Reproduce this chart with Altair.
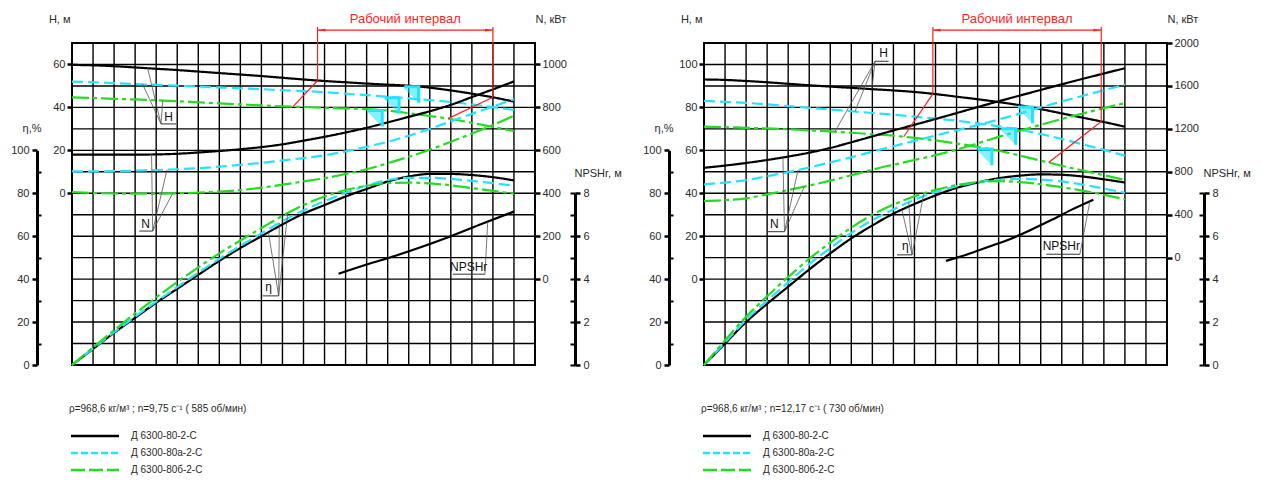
import altair as alt
import numpy as np
import pandas as pd

FONT = "Liberation Sans"
INK = "#2b2b2b"
RED = "#ff1f1f"
CYAN = "#22e4ff"

VARIANTS = ["Д 6300-80-2-С", "Д 6300-80а-2-С", "Д 6300-80б-2-С"]
COLORS = ["#000000", CYAN, "#22dd22"]
CURVE_DASH = [[1, 0], [11, 5], [17, 4, 4, 4]]
KEY_DASH = [[1, 0], [7, 3], [14, 4]]

# ---------------- n = 9,75 1/s (585 rpm) ----------------
Q_585 = list(range(0, 6301, 300))
H_585 = [
    [59.8, 59.6, 59.2, 58.6, 58.0, 57.4, 56.7, 56.0, 55.3, 54.6, 53.8, 53.0, 52.3, 51.7, 51.1, 50.6, 50.1, 49.2, 47.9, 46.4, 44.7, 42.7],
    [52.0, 51.7, 51.3, 50.9, 50.5, 50.1, 49.7, 49.3, 48.9, 48.5, 48.0, 47.6, 47.1, 46.4, 45.7, 45.0, 44.2, 43.4, 42.5, 41.4, 40.1, 38.8],
    [44.7, 44.4, 44.0, 43.7, 43.3, 42.9, 42.4, 41.9, 41.4, 40.9, 40.5, 40.2, 39.8, 39.5, 39.2, 38.5, 37.3, 36.0, 34.6, 32.8, 30.9, 29.0],
]
N_585 = [
    [580, 580, 580, 580, 581, 584, 590, 597, 605, 615, 628, 645, 663, 683, 705, 730, 756, 782, 812, 848, 884, 921],
    [502, 502, 503, 505, 508, 512, 517, 524, 532, 542, 553, 564, 577, 595, 616, 640, 668, 700, 735, 770, 804, 838],
    [405, 401, 399, 398, 398, 400, 403, 408, 415, 426, 440, 455, 470, 490, 512, 540, 570, 603, 640, 678, 718, 761],
]
ETA_585 = [
    [0, 7.5, 15, 22, 29, 35.5, 42, 48.5, 54.5, 60, 65.5, 70.5, 74.5, 78.5, 82, 85.5, 87.8, 89, 89, 88.5, 87.5, 86],
    [0, 7.7, 15.3, 22.5, 29.5, 36.3, 43, 49.5, 55.5, 61.3, 67, 72, 76.3, 80.2, 83.6, 86.2, 87.2, 87.2, 86.7, 85.8, 84.7, 83.6],
    [0, 8.2, 16.2, 24, 31.5, 38.7, 45.5, 52, 58, 63.8, 69.5, 74.5, 78.5, 81.5, 83.5, 84.7, 85, 84.6, 83.7, 82.4, 81.1, 79.8],
]
NPSH_Q_585 = [3800, 4200, 4600, 5000, 5400, 5800, 6300]
NPSH_585 = [4.25, 4.68, 5.08, 5.52, 6.0, 6.52, 7.15]
NOTE_585 = "ρ=968,6 кг/м³ ; n=9,75 с⁻¹ ( 585 об/мин)"
WORK_585 = [3500, 6000]        # working range limits on the full impeller
WORK_LOW_585 = [3150, 5360]    # the same limits on the "б" impeller
BEP_585 = [4850, 4570, 4330]   # best-efficiency flags, one per H curve

# ---------------- n = 12,17 1/s (730 rpm) ----------------
Q_730 = list(range(0, 8001, 400))
H_730 = [
    [93, 92.8, 92.3, 91.7, 91.0, 90.3, 89.7, 89.1, 88.5, 87.9, 87.2, 86.2, 85.0, 83.8, 82.5, 81.0, 79.2, 77.2, 75.2, 73.2, 71.0],
    [83, 82.6, 82.1, 81.4, 80.6, 79.8, 79.0, 78.2, 77.4, 76.6, 75.7, 74.8, 73.8, 72.6, 71.2, 69.6, 67.6, 65.3, 62.8, 60.2, 57.5],
    [71, 70.8, 70.5, 70.2, 69.8, 69.3, 68.8, 68.2, 67.5, 66.8, 65.8, 64.6, 63.2, 61.6, 59.8, 57.6, 55.2, 52.8, 50.6, 48.4, 46.2],
]
N_730 = [
    [837, 858, 882, 910, 942, 978, 1022, 1075, 1130, 1185, 1238, 1292, 1347, 1403, 1457, 1510, 1563, 1615, 1666, 1716, 1765],
    [683, 700, 722, 760, 797, 840, 888, 935, 988, 1038, 1088, 1138, 1186, 1236, 1287, 1342, 1400, 1456, 1508, 1560, 1612],
    [527, 537, 553, 590, 630, 672, 718, 768, 820, 866, 910, 955, 1005, 1065, 1125, 1182, 1238, 1292, 1343, 1393, 1440],
]
ETA_730 = [
    [0, 10, 20, 28.5, 36.5, 44.5, 52, 59, 65, 70.5, 75, 79, 82.5, 85, 87, 88.2, 88.8, 88.6, 87.8, 86.5, 85],
    [0, 10.5, 21, 30, 38.5, 47, 54.5, 61.5, 67.5, 72.5, 77, 80.5, 83.3, 85.2, 86.3, 86.7, 86.4, 85.5, 84, 82.2, 80.2],
    [0, 11.5, 22.5, 32, 41, 49.5, 57, 64, 70, 74.7, 78.6, 81.6, 83.8, 85.2, 85.6, 85.2, 84.2, 82.8, 81.2, 79.3, 77.2],
]
NPSH_Q_730 = [4600, 5000, 5400, 5800, 6200, 6600, 7000, 7400]
NPSH_730 = [4.85, 5.15, 5.5, 5.85, 6.28, 6.75, 7.25, 7.7]
NOTE_730 = "ρ=968,6 кг/м³ ; n=12,17 с⁻¹ ( 730 об/мин)"
WORK_730 = [4350, 7550]
WORK_LOW_730 = [3795, 6550]
BEP_730 = [6120, 5800, 5350]

# curve callouts: text anchor, underline (q0, q1, level), leader hub and leader targets
TAGS_585 = [
    dict(unit="H", text="H", at=(1376, 35.6), line=(1269, 1483, 32.3), hub=1269, to=[1078, 1007, 1293]),
    dict(unit="N", text="N", at=(1050, 258), line=(959, 1150, 224), hub=1150, to=[1134, 1355, 1435]),
    dict(unit="eta", text="η", at=(2803, 36.4), line=(2718, 2946, 32.2), hub=2946, to=[2800, 2955, 3075]),
    dict(unit="npsh", text="NPSHr", at=(5655, 4.57), line=(5427, 5887, 4.23), hub=5887, to=[5926]),
]
TAGS_730 = [
    dict(unit="H", text="H", at=(3413, 105.3), line=(3252, 3509, 101.5), hub=3252, to=[3189, 2870, 2487]),
    dict(unit="N", text="N", at=(1339, 311), line=(1213, 1530, 242), hub=1530, to=[1500, 1787, 1907]),
    dict(unit="eta", text="η", at=(3826, 55.4), line=(3668, 3955, 51.3), hub=3955, to=[3763, 3891, 4178]),
    dict(unit="npsh", text="NPSHr", at=(6792, 5.54), line=(6505, 7144, 5.16), hub=7144, to=[7335]),
]

PANELS = [
    dict(q=Q_585, H=H_585, N=N_585, eta=ETA_585, npsh_q=NPSH_Q_585, npsh=NPSH_585,
         qmax=6600, qstep=300, qticks=[0, 1500, 3000, 4500, 6000], qtitle_at=5250,
         hdom=[-80, 70], hticks=[0, 20, 40, 60], ndom=[-400, 1100], nticks=list(range(0, 1001, 200)),
         npsh_off=40, work=WORK_585, work_low=WORK_LOW_585, bep=BEP_585, tags=TAGS_585, note=NOTE_585),
    dict(q=Q_730, H=H_730, N=N_730, eta=ETA_730, npsh_q=NPSH_Q_730, npsh=NPSH_730,
         qmax=8800, qstep=400, qticks=[0, 2000, 4000, 6000, 8000], qtitle_at=7100,
         hdom=[-40, 110], hticks=[0, 20, 40, 60, 80, 100], ndom=[-1000, 2000], nticks=list(range(0, 2001, 400)),
         npsh_off=37, work=WORK_730, work_low=WORK_LOW_730, bep=BEP_730, tags=TAGS_730, note=NOTE_730),
]

W, HT = 463, 322
ROW = HT / 15.0          # one grid row, px


def at(q, vals, x):
    return float(np.interp(x, q, vals))


def long_table(q, table):
    return pd.DataFrame([{"Q": qq, "v": val, "variant": VARIANTS[i]}
                         for i, col in enumerate(table) for qq, val in zip(q, col)])


def panel(cfg):
    q = cfg["q"]
    qmax = cfg["qmax"]
    hlo, hhi = cfg["hdom"]
    off = cfg["npsh_off"]
    xs = alt.Scale(domain=[0, qmax], nice=False, zero=False)
    sc = {
        "H": alt.Scale(domain=cfg["hdom"], nice=False, zero=False),
        "N": alt.Scale(domain=cfg["ndom"], nice=False, zero=False),
        # efficiency 0..100 over the lower ten rows, NPSH 0..8 over the lower eight rows
        "eta": alt.Scale(domain=[0, 100], range=[HT, HT - 10 * ROW], nice=False, zero=False),
        "npsh": alt.Scale(domain=[0, 8], range=[HT, HT - 8 * ROW], nice=False, zero=False),
    }
    guide = dict(labelFont=FONT, labelFontSize=11, labelColor=INK, labelFlush=False, labelOverlap=False,
                 titleFont=FONT, titleFontSize=11, titleFontWeight="normal", titleColor=INK, titleAngle=0,
                 grid=False, tickColor="black", domainColor="black")
    color = alt.Color("variant:N", scale=alt.Scale(domain=VARIANTS, range=COLORS), legend=None)
    dash = alt.StrokeDash("variant:N", scale=alt.Scale(domain=VARIANTS, range=CURVE_DASH), legend=None)

    def X(field):
        return alt.X(field, scale=xs, axis=None)

    def Y(field, unit, axis=None):
        return alt.Y(field, scale=sc[unit], axis=axis)

    # pixel offsets below/left of the plot expressed in Q and H units (for the key)
    def qpx(px):
        return px * qmax / W

    def hpx(py):
        return hhi - py * (hhi - hlo) / HT

    qpos = cfg["qtitle_at"]
    x_axis = alt.Axis(values=cfg["qticks"] + [qpos], format="d",
                      labelExpr=f"datum.value == {qpos} ? 'Q,м³/ч' : datum.label",
                      ticks=False, domain=False, labelPadding=9, title=None, **guide)
    h_axis = alt.Axis(orient="left", values=cfg["hticks"], format="d", tickSize=5, tickWidth=2.5, labelPadding=2,
                      domain=False, title="H, м", titleX=-2, titleY=-24, titleAlign="right",
                      titleBaseline="middle", **guide)
    n_axis = alt.Axis(orient="right", values=cfg["nticks"], format="d", tickSize=5, tickWidth=2.5, labelPadding=2,
                      domain=False, title="N, кВт", titleX=0, titleY=-24, titleAlign="left",
                      titleBaseline="middle", **guide)
    eta_axis = alt.Axis(orient="left", offset=35, values=list(range(0, 101, 20)), format="d", tickSize=5,
                        tickWidth=2.5, domain=True, domainWidth=3, labelPadding=3, title="η,%", titleX=4,
                        titleY=HT - 10 * ROW - 22, titleAlign="right", titleBaseline="middle", **guide)
    eta_minor = alt.Axis(orient="left", offset=31, values=[10, 30, 50, 70, 90], tickSize=4, tickWidth=2,
                         domain=False, labels=False, title=None, **guide)
    npsh_axis = alt.Axis(orient="right", offset=off, values=[0, 2, 4, 6, 8], format="d", tickSize=5,
                         tickWidth=2.5, domain=True, domainWidth=3, labelPadding=3, title="NPSHr, м", titleX=-1,
                         titleY=HT - 8 * ROW - 20, titleAlign="left", titleBaseline="middle", **guide)
    npsh_minor = alt.Axis(orient="right", offset=off - 5, values=[1, 3, 5, 7, 0, 2, 4, 6, 8], tickSize=5,
                          tickWidth=2, domain=False, labels=False, title=None, **guide)

    layers = []
    # grid
    layers.append(alt.Chart(pd.DataFrame({"q": list(range(0, qmax + 1, cfg["qstep"]))}))
                  .mark_rule(color="black", strokeWidth=1.4)
                  .encode(x=alt.X("q:Q", scale=xs, axis=x_axis)))
    layers.append(alt.Chart(pd.DataFrame({"h": list(range(hlo, hhi + 1, 10))}))
                  .mark_rule(color="black", strokeWidth=1.4)
                  .encode(y=Y("h:Q", "H", h_axis)))

    # extra tick sets on the efficiency and NPSH scales
    layers.append(alt.Chart(pd.DataFrame({"q": [0], "a": [0]})).mark_point(opacity=0)
                  .encode(x=X("q:Q"), y=Y("a:Q", "eta", eta_minor)))
    layers.append(alt.Chart(pd.DataFrame({"q": [0], "a": [0]})).mark_point(opacity=0)
                  .encode(x=X("q:Q"), y=Y("a:Q", "npsh", npsh_minor)))

    # characteristic curves
    def curves(table, unit, axis):
        return (alt.Chart(long_table(q, table))
                .mark_line(strokeWidth=2.2, interpolate="monotone")
                .encode(x=X("Q:Q"), y=Y("v:Q", unit, axis), color=color, strokeDash=dash))

    layers.append(curves(cfg["H"], "H", None))
    layers.append(curves(cfg["N"], "N", n_axis))
    layers.append(curves(cfg["eta"], "eta", eta_axis))
    layers.append(alt.Chart(pd.DataFrame({"Q": cfg["npsh_q"], "v": cfg["npsh"]}))
                  .mark_line(color="black", strokeWidth=2.2, interpolate="monotone")
                  .encode(x=X("Q:Q"), y=Y("v:Q", "npsh", npsh_axis)))

    # working range
    hb, hg = cfg["H"][0], cfg["H"][2]
    w0, w1 = cfg["work"]
    l0, l1 = cfg["work_low"]
    red_v = pd.DataFrame({"q": [w0, w1], "y": [hhi + 7.5] * 2, "y2": [at(q, hb, w0), at(q, hb, w1)]})
    red_d = pd.DataFrame({"q": [w0, w1], "y": [at(q, hb, w0), at(q, hb, w1)],
                          "q2": [l0, l1], "y2": [at(q, hg, l0), at(q, hg, l1)]})
    layers.append(alt.Chart(red_v).mark_rule(color=RED, strokeWidth=1.2)
                  .encode(x=X("q:Q"), y=Y("y:Q", "H"), y2="y2:Q"))
    layers.append(alt.Chart(red_d).mark_rule(color=RED, strokeWidth=1.2)
                  .encode(x=X("q:Q"), x2="q2:Q", y=Y("y:Q", "H"), y2="y2:Q"))
    layers.append(alt.Chart(pd.DataFrame({"q": [w0], "q2": [w1], "y": [hhi + 6]}))
                  .mark_rule(color=RED, strokeWidth=1.2)
                  .encode(x=X("q:Q"), x2="q2:Q", y=Y("y:Q", "H")))
    for qq, path in ((w0, "M0,0L2.6,-0.45L2.6,0.45Z"), (w1, "M0,0L-2.6,-0.45L-2.6,0.45Z")):
        layers.append(alt.Chart(pd.DataFrame({"q": [qq], "y": [hhi + 6]}))
                      .mark_point(shape=path, filled=True, size=36, opacity=1, color=RED)
                      .encode(x=X("q:Q"), y=Y("y:Q", "H")))
    layers.append(alt.Chart(pd.DataFrame({"q": [(w0 + w1) / 2], "y": [hhi + 11.3], "t": ["Рабочий интервал"]}))
                  .mark_text(color=RED, font=FONT, fontSize=13, baseline="middle")
                  .encode(x=X("q:Q"), y=Y("y:Q", "H"), text="t:N"))

    # best-efficiency flags on the head curves
    flags = pd.DataFrame({"q": cfg["bep"], "y": [at(q, cfg["H"][i], cfg["bep"][i]) for i in range(3)]})
    layers.append(alt.Chart(flags).mark_point(shape="M-1,0.3L0.6,0.3L0.6,1.9Z", filled=True, size=256,
                                              color=CYAN, opacity=0.55)
                  .encode(x=X("q:Q"), y=Y("y:Q", "H")))
    layers.append(alt.Chart(flags).mark_point(shape="M-1,-0.1L1,-0.1L1,2.1L0.6,2.1L0.6,0.3L-1,0.3Z",
                                              filled=True, size=256, color=CYAN, opacity=1)
                  .encode(x=X("q:Q"), y=Y("y:Q", "H")))

    # callouts
    tables = {"H": cfg["H"], "N": cfg["N"], "eta": cfg["eta"]}
    for tag in cfg["tags"]:
        u = tag["unit"]
        lvl = tag["line"][2]
        if u == "npsh":
            ends = [at(cfg["npsh_q"], cfg["npsh"], t) for t in tag["to"]]
        else:
            ends = [at(q, tables[u][i], t) for i, t in enumerate(tag["to"])]
        lead = pd.DataFrame({"q": [tag["hub"]] * len(ends), "y": [lvl] * len(ends), "q2": tag["to"], "y2": ends})
        layers.append(alt.Chart(lead).mark_rule(color="#555555", strokeWidth=0.8)
                      .encode(x=X("q:Q"), x2="q2:Q", y=Y("y:Q", u), y2="y2:Q"))
        layers.append(alt.Chart(pd.DataFrame({"q": [tag["line"][0]], "q2": [tag["line"][1]], "y": [lvl]}))
                      .mark_rule(color="#333333", strokeWidth=1)
                      .encode(x=X("q:Q"), x2="q2:Q", y=Y("y:Q", u)))
        layers.append(alt.Chart(pd.DataFrame({"q": [tag["at"][0]], "y": [tag["at"][1]], "t": [tag["text"]]}))
                      .mark_text(font=FONT, fontSize=12, color="#111111", baseline="middle")
                      .encode(x=X("q:Q"), y=Y("y:Q", u), text="t:N"))

    # footnote and key below the plot
    layers.append(alt.Chart(pd.DataFrame({"q": [qpx(-3)], "y": [hpx(366)], "t": [cfg["note"]]}))
                  .mark_text(align="left", baseline="middle", font=FONT, fontSize=10, color=INK)
                  .encode(x=X("q:Q"), y=Y("y:Q", "H"), text="t:N"))
    for i, name in enumerate(VARIANTS):
        yk = hpx(393 + 17 * i)
        layers.append(alt.Chart(pd.DataFrame({"q": [qpx(-1)], "q2": [qpx(47)], "y": [yk]}))
                      .mark_rule(strokeWidth=2.5, color=COLORS[i], strokeDash=KEY_DASH[i])
                      .encode(x=X("q:Q"), x2="q2:Q", y=Y("y:Q", "H")))
        layers.append(alt.Chart(pd.DataFrame({"q": [qpx(59)], "y": [yk], "t": [name]}))
                      .mark_text(align="left", baseline="middle", font=FONT, fontSize=10, color=INK)
                      .encode(x=X("q:Q"), y=Y("y:Q", "H"), text="t:N"))

    return (alt.layer(*layers).properties(width=W, height=HT)
            .resolve_scale(y="independent"))


chart = (alt.hconcat(panel(PANELS[0]), panel(PANELS[1]), spacing=169, bounds="flush")
         .resolve_scale(color="independent", strokeDash="independent")
         .configure_view(stroke="black", strokeWidth=2)
         .properties(padding={"left": 9, "top": 11, "right": 5, "bottom": 5}))

chart.save("out.html", embed_options={"renderer": "svg", "actions": False})
